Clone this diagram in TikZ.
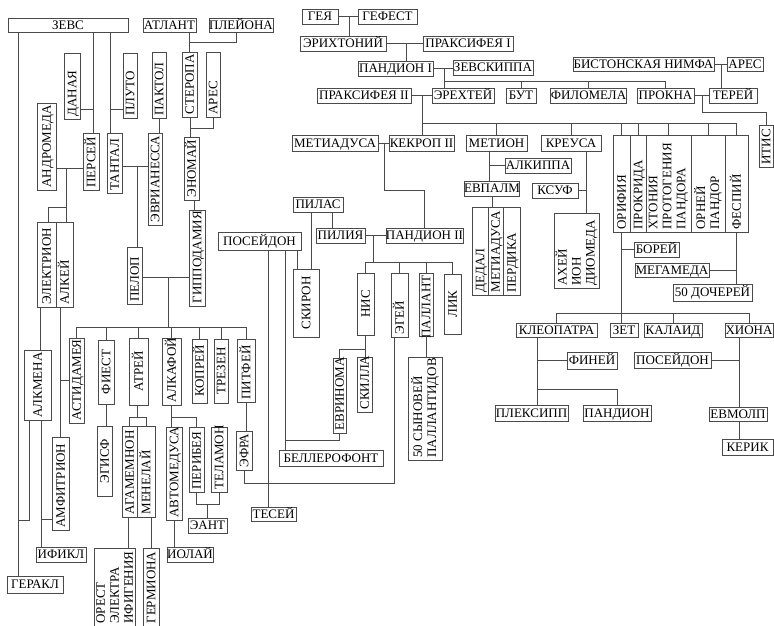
\documentclass[tikz,border=0pt]{standalone}
\usepackage{fontspec}
\setmainfont{Liberation Serif}
\usepackage{graphicx}

\definecolor{rule}{HTML}{4A4A4A}
\newcommand\personfont{\fontsize{13}{14}\selectfont}
\newcommand\capheight{8.6pt}

\tikzset{
  namebox/.style={draw=rule, line width=0.8pt, inner sep=0pt, font=\personfont, text=black},
  hname/.style={namebox, text height=\capheight, text depth=0pt},
  vname/.style={namebox},
  link/.style={draw=rule, line width=0.8pt},
}

% horizontal name box: name, x1, y1, x2, y2, text (pixel corners, y downwards)
\newcommand\hperson[6]{%
  \pgfmathsetlengthmacro\boxw{#4-#2}%
  \pgfmathsetlengthmacro\boxh{#5-#3}%
  \node[hname, minimum width=\boxw, minimum height=\boxh] (#1) at ({(#2+#4)/2},{(#3+#5)/2}) {#6};}

% vertical name box, text read upwards; optional alignment l = bottom, c, r = top
\newcommand\vperson[7][l]{%
  \pgfmathsetlengthmacro\boxw{#5-#3}%
  \pgfmathsetlengthmacro\boxh{#6-#4}%
  \pgfmathsetlengthmacro\namelen{#6-#4-5}%
  \node[vname, minimum width=\boxw, minimum height=\boxh] (#2) at ({(#3+#5)/2},{(#4+#6)/2})
    {\rotatebox{90}{\makebox[\namelen][#1]{\rule{0pt}{\capheight}\smash{#7}}}};}

% vertical box holding several names side by side
\newcommand\vgroup[6]{%
  \pgfmathsetlengthmacro\boxw{#4-#2}%
  \pgfmathsetlengthmacro\boxh{#5-#3}%
  \pgfmathsetlengthmacro\namelen{#5-#3-5}%
  \node[vname, minimum width=\boxw, minimum height=\boxh] (#1) at ({(#2+#4)/2},{(#3+#5)/2})
    {\rotatebox{90}{\parbox{\namelen}{\raggedright #6}}};}

\begin{document}
\begin{tikzpicture}[x=1pt, y=-1pt]
\useasboundingbox (0,0) rectangle (774,625);

% ---------- horizontal boxes ----------
\hperson{zevs}{8}{18}{128}{32}{ЗЕВС}
\hperson{atlant}{143}{18}{196}{32}{АТЛАНТ}
\hperson{pleiona}{209}{18}{273}{32}{ПЛЕЙОНА}
\hperson{geia}{302}{9}{338}{24}{ГЕЯ}
\hperson{gefest}{358}{9}{417}{24}{ГЕФЕСТ}
\hperson{erikhtonii}{300}{36}{386}{51}{ЭРИХТОНИЙ}
\hperson{praxithea1}{423}{36}{513}{51}{ПРАКСИФЕЯ I}
\hperson{pandion1}{358}{61}{433}{76}{ПАНДИОН I}
\hperson{zeuxippe}{453}{60}{533}{75}{ЗЕВСКИППА}
\hperson{praxithea2}{317}{88}{411}{103}{ПРАКСИФЕЯ II}
\hperson{erechtheus}{432}{88}{494}{103}{ЭРЕХТЕЙ}
\hperson{butes}{506}{88}{536}{103}{БУТ}
\hperson{philomela}{551}{88}{626}{103}{ФИЛОМЕЛА}
\hperson{procne}{637}{88}{694}{103}{ПРОКНА}
\hperson{nymph}{573}{57}{714}{71}{БИСТОНСКАЯ НИМФА}
\hperson{ares2}{727}{57}{763}{71}{АРЕС}
\hperson{tereus}{709}{88}{757}{103}{ТЕРЕЙ}
\hperson{metiadusa}{292}{135}{378}{151}{МЕТИАДУСА}
\hperson{cecrops2}{389}{135}{454}{151}{КЕКРОП II}
\hperson{metion}{466}{135}{527}{151}{МЕТИОН}
\hperson{alcippe}{505}{158}{571}{173}{АЛКИППА}
\hperson{eupalamus}{467}{181}{517}{196}{ЕВПАЛМ}
\hperson{creusa}{541}{135}{601}{151}{КРЕУСА}
\hperson{xuthus}{532}{183}{578}{198}{КСУФ}
\hperson{pylas}{293}{197}{343}{212}{ПИЛАС}
\hperson{pylia}{316}{228}{365}{243}{ПИЛИЯ}
\hperson{pandion2}{386}{228}{463}{243}{ПАНДИОН II}
\hperson{poseidon1}{218}{232}{301}{250}{ПОСЕЙДОН}
\hperson{boreas}{634}{242}{679}{257}{БОРЕЙ}
\hperson{megameda}{635}{263}{709}{277}{МЕГАМЕДА}
\hperson{daughters}{673}{284}{752}{301}{50 ДОЧЕРЕЙ}
\hperson{cleopatra}{516}{323}{597}{337}{КЛЕОПАТРА}
\hperson{zetes}{610}{323}{638}{337}{ЗЕТ}
\hperson{calais}{644}{323}{702}{337}{КАЛАИД}
\hperson{chione}{725}{323}{773}{337}{ХИОНА}
\hperson{phineus}{567}{352}{617}{369}{ФИНЕЙ}
\hperson{plexippus}{495}{405}{568}{421}{ПЛЕКСИПП}
\hperson{pandion3}{583}{405}{651}{421}{ПАНДИОН}
\hperson{poseidon2}{634}{352}{711}{368}{ПОСЕЙДОН}
\hperson{eumolpus}{709}{407}{767}{421}{ЕВМОЛП}
\hperson{ceryx}{722}{439}{773}{455}{КЕРИК}
\hperson{bellerophon}{279}{450}{383}{466}{БЕЛЛЕРОФОНТ}
\hperson{theseus}{251}{507}{296}{521}{ТЕСЕЙ}
\hperson{aeant}{188}{518}{227}{533}{ЭАНТ}
\hperson{iolaus}{167}{547}{213}{562}{ИОЛАЙ}
\hperson{iphicles}{36}{547}{86}{562}{ИФИКЛ}
\hperson{heracles}{7}{576}{63}{593}{ГЕРАКЛ}

% ---------- vertical boxes ----------
\vperson{danae}{64}{53}{80}{119}{ДАНАЯ}
\vperson{pluto}{123}{53}{137}{118}{ПЛУТО}
\vperson{pactolus}{152}{52}{166}{118}{ПАКТОЛ}
\vperson{sterope}{182}{52}{197}{117}{СТЕРОПА}
\vperson{ares1}{206}{52}{220}{117}{АРЕС}
\vperson{andromeda}{37}{103}{56}{190}{АНДРОМЕДА}
\vperson{perseus}{83}{133}{99}{190}{ПЕРСЕЙ}
\vperson{tantalus}{107}{133}{122}{193}{ТАНТАЛ}
\vperson{euryanassa}{148}{133}{162}{225}{ЭВРИАНЕССА}
\vperson{oenomaus}{184}{137}{199}{200}{ЭНОМАЙ}
\vperson{hippodamia}{189}{210}{205}{306}{ГИППОДАМИЯ}
\vperson{electryon}{37}{222}{56}{307}{ЭЛЕКТРИОН}
\vperson{alcaeus}{56}{222}{73}{307}{АЛКЕЙ}
\vperson{pelops}{127}{247}{142}{304}{ПЕЛОП}
\vperson{astydamia}{69}{338}{84}{423}{АСТИДАМЕЯ}
\vperson[c]{thyestes}{98}{340}{114}{404}{ФИЕСТ}
\vperson[c]{atreus}{129}{338}{148}{405}{АТРЕЙ}
\vperson{alcathous}{162}{338}{181}{405}{АЛКАФОЙ}
\vperson[c]{copreus}{192}{339}{207}{403}{КОПРЕЙ}
\vperson[c]{troezen}{214}{339}{228}{403}{ТРЕЗЕН}
\vperson{pittheus}{237}{339}{255}{402}{ПИТФЕЙ}
\vperson{alcmene}{24}{350}{51}{420}{АЛКМЕНА}
\vperson{amphitryon}{52}{437}{69}{530}{АМФИТРИОН}
\vperson[c]{aegisthus}{97}{426}{112}{496}{ЭГИСФ}
\vperson{agamemnon}{122}{426}{137}{517}{АГАМЕМНОН}
\vperson{menelaus}{137}{426}{155}{517}{МЕНЕЛАЙ}
\vgroup{orestes}{94}{548}{135}{626}{ОРЕСТ\\ЭЛЕКТРА\\ИФИГЕНИЯ}
\vperson{hermione}{143}{548}{159}{626}{ГЕРМИОНА}
\vperson{automedusa}{166}{427}{182}{520}{АВТОМЕДУСА}
\vperson{periboea}{189}{427}{204}{492}{ПЕРИБЕЯ}
\vperson{telamon}{211}{427}{227}{492}{ТЕЛАМОН}
\vperson{aethra}{236}{431}{252}{470}{ЭФРА}
\vperson[c]{sciron}{293}{269}{319}{337}{СКИРОН}
\vperson[c]{nisus}{357}{273}{374}{335}{НИС}
\vperson{aegeus}{391}{273}{408}{337}{ЭГЕЙ}
\vperson[r]{pallas}{419}{273}{433}{336}{ПАЛЛАНТ}
\vperson[c]{lycus}{444}{274}{461}{334}{ЛИК}
\vperson{eurynome}{333}{358}{346}{433}{ЕВРИНОМА}
\vperson{scylla}{357}{357}{372}{412}{СКИЛЛА}
\vgroup{pallantids}{408}{357}{442}{460}{50~СЫНОВЕЙ\\ПАЛЛАНТИДОВ}
\vperson{daedalus}{472}{207}{488}{295}{ДЕДАЛ}
\vperson{metiadusa2}{488}{207}{503}{295}{МЕТИАДУСА}
\vperson{perdix}{503}{207}{520}{295}{ПЕРДИКА}
\vgroup{creusakids}{554}{213}{599}{288}{АХЕЙ\\ИОН\\ДИОМЕДА}
\vperson{orithyia}{613}{135}{630}{232}{ОРИФИЯ}
\vperson{procris}{630}{135}{646}{232}{ПРОКРИДА}
\vgroup{chthonia}{646}{135}{691}{232}{ХТОНИЯ\\ПРОТОГЕНИЯ\\ПАНДОРА}
\vgroup{orneus}{691}{135}{725}{232}{ОРНЕЙ\\ПАНДОР}
\vperson{thespius}{725}{135}{748}{232}{ФЕСПИЙ}
\vperson{itys}{759}{125}{773}{167}{ИТИС}

% ---------- line tracks and levels ----------
\coordinate (xHer) at (18,0);   \coordinate (xAlcZ) at (29,0);
\coordinate (jAlcHer) at (18,520);
\coordinate (xIphi) at (41,0);  \coordinate (yAmph) at (0,519);
\coordinate (xElA) at (40,0);   \coordinate (yAndr) at (0,168);
\coordinate (xPerK) at (66,0);  \coordinate (yPerK) at (0,207);
\coordinate (xElK) at (48,0);
\coordinate (xPer) at (93,0);   \coordinate (yDan) at (0,109);
\coordinate (xTan) at (110,0);  \coordinate (yTan) at (0,166);
\coordinate (xPel) at (137,0);
\coordinate (xAtl) at (189,0);  \coordinate (yAtl) at (0,42);
\coordinate (xPle) at (236,0);
\coordinate (xSte) at (190,0);  \coordinate (ySte) at (0,128);
\coordinate (xOen) at (194,0);
\coordinate (yPel) at (0,277);  \coordinate (xPelK) at (168,0);
\coordinate (yBar) at (0,327);
\coordinate (xAtr) at (137,0);  \coordinate (yAtr) at (0,417);
\coordinate (xAgaD) at (128,0); \coordinate (xMenD) at (151,0);
\coordinate (yEant) at (0,504); \coordinate (yAeg) at (0,483);
\coordinate (xAegD) at (394,0);
\coordinate (xThe) at (268,0);  \coordinate (xBel) at (285,0);
\coordinate (yEur) at (0,440);
\coordinate (xSkP) at (297,0);  \coordinate (xSkL) at (311,0);
\coordinate (xPyl) at (332,0);
\coordinate (xPan) at (373,0);  \coordinate (yPanBar) at (0,262);
\coordinate (yNis) at (0,349);
\coordinate (xCec) at (384,0);  \coordinate (yCec) at (0,190);
\coordinate (yGe) at (0,16);    \coordinate (xEri) at (349,0);
\coordinate (xPand) at (406,0);
\coordinate (xEre) at (444,0);  \coordinate (yEreBar) at (0,81);
\coordinate (xCecII) at (422,0);\coordinate (yAthBar) at (0,123);
\coordinate (xTer) at (721,0);
\coordinate (xIty) at (702,0);  \coordinate (yIty) at (0,112);
\coordinate (xMet) at (489,0);
\coordinate (xCre) at (586,0);
\coordinate (yBor) at (0,313);
\coordinate (xCle) at (537,0);  \coordinate (yCle) at (0,389);
\coordinate (xChi) at (739,0);

% ---------- Zeus, Perseus, Tantalus ----------
\draw[link] (zevs.south -| xHer) -- (heracles.north -| xHer);
\draw[link] (alcmene.south -| xAlcZ) |- (jAlcHer);
\draw[link] (alcmene.south -| xIphi) -- (iphicles.north -| xIphi);
\draw[link] (amphitryon.west |- yAmph) -- (xIphi |- yAmph);
\draw[link] (alcaeus.south -| amphitryon.north) -- (amphitryon.north);
\draw[link] (astydamia.west) -- (astydamia.west -| amphitryon.north);
\draw[link] (electryon.south -| xElA) -- (alcmene.north -| xElA);
\draw[link] (andromeda.east |- yAndr) -- (perseus.west |- yAndr);
\draw[link] (xPerK |- yAndr) -- (alcaeus.north -| xPerK);
\draw[link] (xPerK |- yPerK) -| (electryon.north -| xElK);
\draw[link] (zevs.south -| xPer) -- (perseus.north -| xPer);
\draw[link] (danae.east |- yDan) -- (xPer |- yDan);
\draw[link] (zevs.south -| xTan) -- (tantalus.north -| xTan);
\draw[link] (pluto.west |- yDan) -- (xTan |- yDan);
\draw[link] (tantalus.east |- yTan) -- (euryanassa.west |- yTan);
\draw[link] (xPel |- yTan) -- (pelops.north -| xPel);
\draw[link] (pactolus.south) -- (pactolus.south |- euryanassa.north);

% ---------- Atlas, Oenomaus, Pelops ----------
\draw[link] (atlant.south -| xAtl) |- (xPle |- yAtl) -- (pleiona.south -| xPle);
\draw[link] (xAtl |- yAtl) -- (sterope.north -| xAtl);
\draw[link] (sterope.south -| xSte) |- (ares1.south |- ySte) -- (ares1.south);
\draw[link] (xSte |- ySte) -- (oenomaus.north -| xSte);
\draw[link] (oenomaus.south -| xOen) -- (hippodamia.north -| xOen);
\draw[link] (pelops.east |- yPel) -- (hippodamia.west |- yPel);
\draw[link] (xPelK |- yPel) -- (xPelK |- yBar);
\draw[link] (astydamia.north |- yBar) -- (pittheus.north |- yBar);
\foreach \child in {astydamia,thyestes,atreus,alcathous,copreus,troezen,pittheus}
  \draw[link] (\child.north |- yBar) -- (\child.north);

% ---------- Pelopids ----------
\draw[link] (thyestes.south) -- (thyestes.south |- aegisthus.north);
\draw[link] (atreus.south -| xAtr) -- (xAtr |- yAtr);
\draw[link] (agamemnon.north) |- (menelaus.north |- yAtr) -- (menelaus.north);
\draw[link] (agamemnon.south -| xAgaD) -- (orestes.north -| xAgaD);
\draw[link] (menelaus.south -| xMenD) -- (hermione.north -| xMenD);
\draw[link] (alcathous.south) -- (alcathous.south |- automedusa.north);
\draw[link] (alcathous.south |- yAtr) -| (periboea.north);
\draw[link] (automedusa.south) -- (automedusa.south |- iolaus.north);
\draw[link] (periboea.south) |- (telamon.south |- yEant) -- (telamon.south);
\draw[link] (aeant.north |- yEant) -- (aeant.north);
\draw[link] (pittheus.south) -- (pittheus.south |- aethra.north);
\draw[link] (aethra.south) |- (xAegD |- yAeg) -- (aegeus.south -| xAegD);

% ---------- Poseidon, Pylas, Pandion II ----------
\draw[link] (poseidon1.south -| xThe) -- (theseus.north -| xThe);
\draw[link] (poseidon1.south -| xBel) -- (bellerophon.north -| xBel);
\draw[link] (xBel |- yEur) -| (eurynome.south);
\draw[link] (poseidon1.south -| xSkP) -- (sciron.north -| xSkP);
\draw[link] (pylas.south -| xSkL) -- (sciron.north -| xSkL);
\draw[link] (pylas.south -| xPyl) -- (pylia.north -| xPyl);
\draw[link] (pylia.east) -- (pylia.east -| pandion2.west);
\draw[link] (xPan |- pylia.east) -- (xPan |- yPanBar);
\draw[link] (nisus.north |- yPanBar) -- (lycus.north |- yPanBar);
\foreach \child in {nisus,aegeus,pallas,lycus}
  \draw[link] (\child.north |- yPanBar) -- (\child.north);
\draw[link] (nisus.south) -- (nisus.south |- scylla.north);
\draw[link] (nisus.south |- yNis) -| (eurynome.north);
\draw[link] (pallas.south) -- (pallas.south |- pallantids.north);
\draw[link] (metiadusa.east) -- (metiadusa.east -| cecrops2.west);
\draw[link] (xCec |- metiadusa.east) |- (pandion2.north |- yCec) -- (pandion2.north);

% ---------- Erichthonius and the Erechtheids ----------
\draw[link] (geia.east |- yGe) -- (gefest.west |- yGe);
\draw[link] (xEri |- yGe) -- (erikhtonii.north -| xEri);
\draw[link] (erikhtonii.east) -- (erikhtonii.east -| praxithea1.west);
\draw[link] (xPand |- erikhtonii.east) -- (pandion1.north -| xPand);
\draw[link] (pandion1.east) -- (pandion1.east -| zeuxippe.west);
\draw[link] (xEre |- pandion1.east) -- (erechtheus.north -| xEre);
\draw[link] (xEre |- yEreBar) -- (procne.north |- yEreBar);
\foreach \child in {butes,philomela,procne}
  \draw[link] (\child.north |- yEreBar) -- (\child.north);
\draw[link] (praxithea2.east) -- (praxithea2.east -| erechtheus.west);
\draw[link] (xCecII |- praxithea2.east) -- (cecrops2.north -| xCecII);
\draw[link] (xCecII |- yAthBar) -- (thespius.north |- yAthBar);
\foreach \child in {metion,creusa,orithyia,procris,chthonia,orneus,thespius}
  \draw[link] (\child.north |- yAthBar) -- (\child.north);

% ---------- Tereus ----------
\draw[link] (nymph.east) -- (nymph.east -| ares2.west);
\draw[link] (xTer |- nymph.east) -- (tereus.north -| xTer);
\draw[link] (procne.east) -- (procne.east -| tereus.west);
\draw[link] (xIty |- procne.east) |- (itys.north |- yIty) -- (itys.north);

% ---------- Metion, Creusa ----------
\draw[link] (metion.south -| xMet) -- (eupalamus.north -| xMet);
\draw[link] (alcippe.west) -- (alcippe.west -| xMet);
\draw[link] (eupalamus.south) -- (eupalamus.south |- metiadusa2.north);
\draw[link] (creusa.south -| xCre) -- (creusakids.north -| xCre);
\draw[link] (xuthus.east) -- (xuthus.east -| xCre);

% ---------- Orithyia and Boreas, Thespius ----------
\draw[link] (orithyia.south) -- (orithyia.south |- zetes.north);
\draw[link] (boreas.west) -- (boreas.west -| orithyia.south);
\draw[link] (cleopatra.north |- yBor) -- (chione.north |- yBor);
\foreach \child in {cleopatra,calais,chione}
  \draw[link] (\child.north |- yBor) -- (\child.north);
\draw[link] (thespius.south) -- (thespius.south |- daughters.north);
\draw[link] (megameda.east) -- (megameda.east -| thespius.south);

% ---------- Cleopatra, Chione ----------
\draw[link] (cleopatra.south -| xCle) -- (plexippus.north -| xCle);
\draw[link] (phineus.west) -- (phineus.west -| xCle);
\draw[link] (xCle |- yCle) -| (pandion3.north);
\draw[link] (chione.south -| xChi) -- (eumolpus.north -| xChi);
\draw[link] (poseidon2.east) -- (poseidon2.east -| xChi);
\draw[link] (eumolpus.south -| xChi) -- (ceryx.north -| xChi);
\end{tikzpicture}
\end{document}
